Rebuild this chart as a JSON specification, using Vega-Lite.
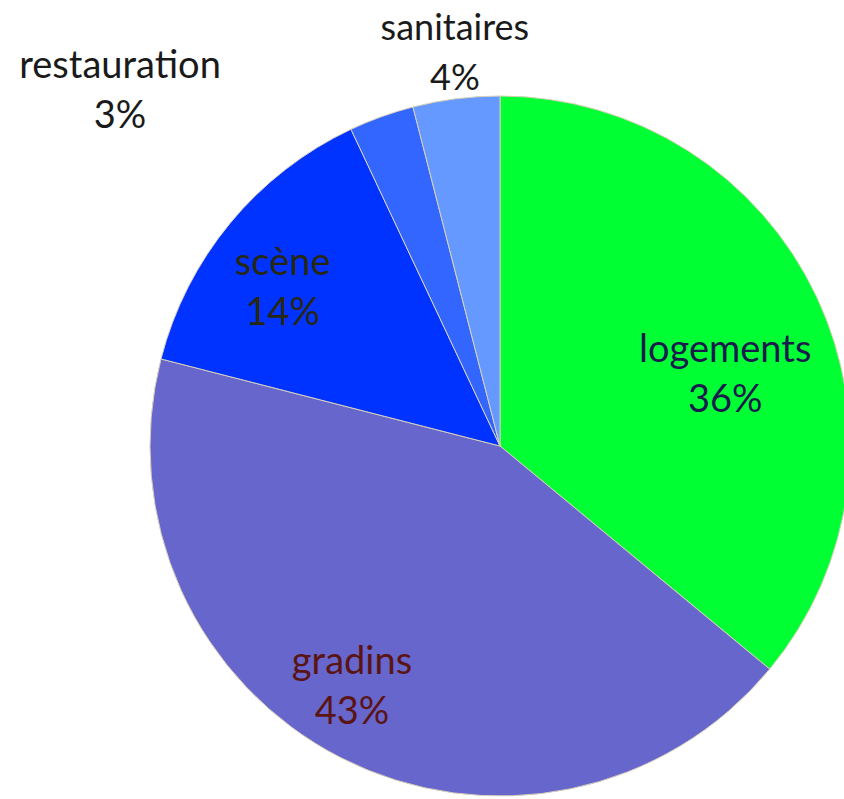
{
  "$schema": "https://vega.github.io/schema/vega-lite/v6.json",
  "width": 688,
  "height": 700,
  "autosize": "none",
  "padding": {"left": 156, "top": 96, "right": 0, "bottom": 3},
  "background": "white",
  "config": {"view": {"stroke": null}, "text": {"font": "Lato", "fontSize": 38, "lineBreak": "\n", "lineHeight": 50}},
  "data": {"values": [
    {"category": "logements", "share": 36, "label": "logements\n36%"},
    {"category": "gradins", "share": 43, "label": "gradins\n43%"},
    {"category": "scène", "share": 14, "label": "scène\n14%"},
    {"category": "restauration", "share": 3, "label": "restauration\n3%"},
    {"category": "sanitaires", "share": 4, "label": "sanitaires\n4%"}
  ]},
  "transform": [{"window": [{"op": "row_number", "as": "rank"}]}],
  "encoding": {
    "theta": {"field": "share", "type": "quantitative", "stack": true},
    "order": {"field": "rank", "type": "quantitative"}
  },
  "layer": [
    {
      "mark": {"type": "arc", "outerRadius": 350, "stroke": "#d8d0b8", "strokeWidth": 1},
      "encoding": {
        "color": {"field": "category", "type": "nominal", "legend": null,
          "scale": {"domain": ["logements", "gradins", "scène", "restauration", "sanitaires"],
                    "range": ["#00FF33", "#6666CC", "#0033FF", "#3366FF", "#6699FF"]}}
      }
    },
    {
      "mark": {"type": "text", "radius": 260, "dx": -10, "dy": 16, "color": "#1a1a4d"},
      "encoding": {"detail": {"field": "category"},
        "text": {"condition": {"test": "datum.category === 'logements'", "field": "label"}, "value": ""}}
    },
    {
      "mark": {"type": "text", "radius": 260, "dx": -30, "dy": -15, "color": "#5a1414"},
      "encoding": {"detail": {"field": "category"},
        "text": {"condition": {"test": "datum.category === 'gradins'", "field": "label"}, "value": ""}}
    },
    {
      "mark": {"type": "text", "radius": 260, "dx": -17, "dy": -16, "color": "#282810"},
      "encoding": {"detail": {"field": "category"},
        "text": {"condition": {"test": "datum.category === 'scène'", "field": "label"}, "value": ""}}
    },
    {
      "mark": {"type": "text", "radius": 360, "dx": -258, "dy": -40, "color": "#1a1a1a"},
      "encoding": {"detail": {"field": "category"},
        "text": {"condition": {"test": "datum.category === 'restauration'", "field": "label"}, "value": ""}}
    },
    {
      "mark": {"type": "text", "radius": 360, "dx": 0, "dy": -60, "fontSize": 36, "color": "#1a1a1a"},
      "encoding": {"detail": {"field": "category"},
        "text": {"condition": {"test": "datum.category === 'sanitaires'", "field": "label"}, "value": ""}}
    }
  ]
}
